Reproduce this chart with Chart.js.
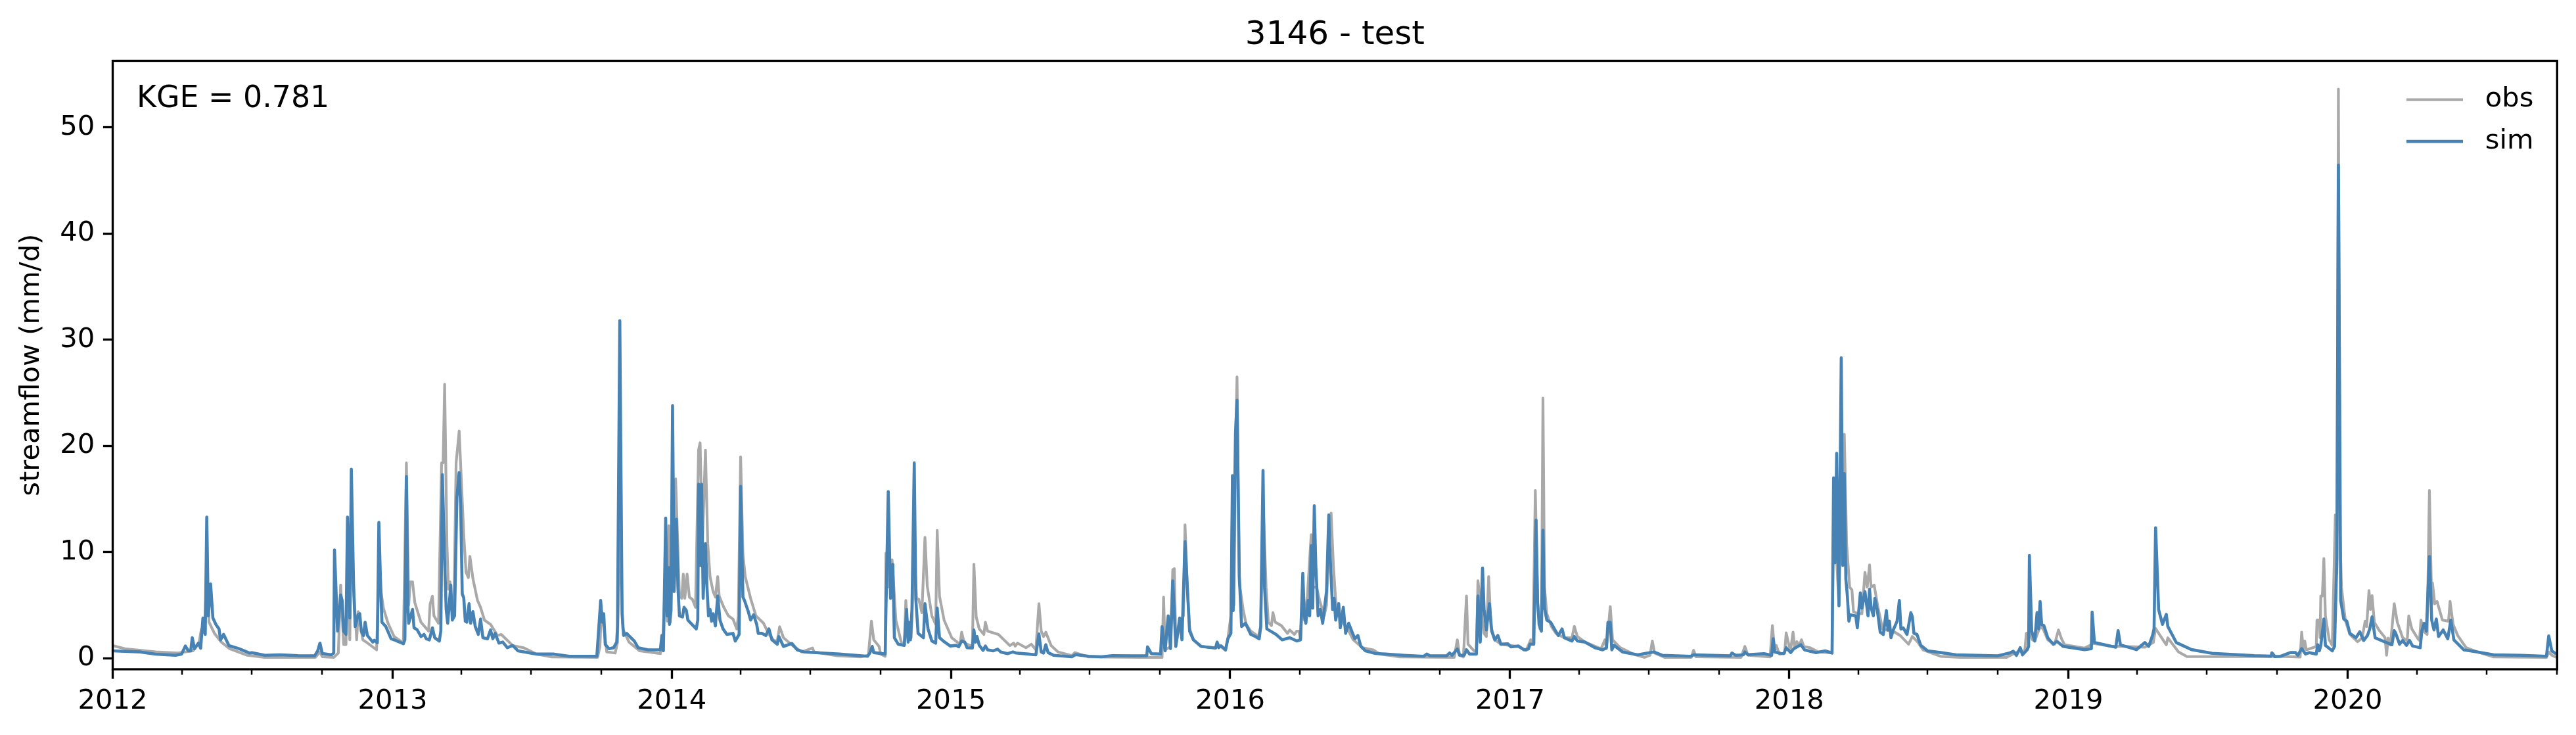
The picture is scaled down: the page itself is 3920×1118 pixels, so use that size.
<!DOCTYPE html>
<html>
<head>
<meta charset="utf-8">
<title>3146 - test</title>
<script src="https://cdn.jsdelivr.net/npm/chart.js@4/dist/chart.umd.min.js"></script>
<style>
  html, body { margin: 0; padding: 0; background: #fff; }
  canvas { display: block; }
</style>
</head>
<body>
<canvas id="flow-chart" width="3920" height="1118"></canvas>
<script>
// x values are days since 2012-01-01, y values are streamflow in mm/d
const startYear = 2012;
const lastDay = 3196;
const yearLabels = ['2012', '2013', '2014', '2015', '2016', '2017', '2018', '2019', '2020'];
const flowTicks = [0, 10, 20, 30, 40, 50];
const quarterMonths = [3, 6, 9];

const simFlow = [
  [0,.7],[36,.6],[56,.39],[82,.29],[90,.39],[95,1.16],[99,.7],[102,.7],[104,1.94],[107,.91],[112,1.43],[115,.95],
  [118,3.8],[121,2.25],[123,13.3],[125,4],[128,7],[131,3.8],[135,3.18],[139,2.77],[141,1.74],[145,2.25],[152,1.2],
  [165,.91],[179,.5],[182,.54],[199,.29],[219,.33],[242,.25],[264,.23],[268,.7],[271,1.43],[274,.46],[286,.33],
  [289,.5],[290,10.2],[294,2.56],[298,5.97],[300,5.45],[302,2.56],[305,2.25],[307,13.3],[310,3.8],[312,17.8],
  [315,6.7],[317,3],[321,4.1],[323,4.2],[325,2.56],[328,2.15],[330,3.4],[333,2.15],[340,1.53],[342,1.7],[346,1.47],
  [348,12.8],[350,7.6],[352,3.4],[357,3],[364,1.84],[368,1.74],[380,1.37],[382,1.74],[384,17.1],[386,4.8],[387,3.3],
  [392,4.6],[394,2.87],[398,2.7],[403,2.05],[407,2.25],[410,1.84],[414,1.74],[418,2.87],[421,1.94],[427,1.63],
  [429,2.56],[431,17.3],[434,9.2],[436,4.6],[438,3.3],[442,6.9],[444,3.6],[447,4],[450,15.15],[453,17.5],[455,14.3],
  [457,6.07],[459,5.7],[461,3.5],[463,3.4],[466,5.14],[468,3.3],[471,4.4],[474,3],[478,2.25],[481,3.7],[484,1.94],
  [490,1.84],[494,2.67],[497,1.84],[500,2.35],[505,1.43],[510,1.53],[516,1],[523,1.2],[530,.7],[554,.4],[577,.4],
  [597,.19],[633,.19],[638,5.45],[640,3.4],[642,4.2],[644,1.3],[649,.9],[655,1],[659,1.53],[660,3],[663,31.8],
  [666,4.2],[668,2.15],[672,2.35],[676,2.05],[682,1.63],[687,1],[700,.8],[716,.8],[718,2.15],[720,.7],[723,13.2],
  [725,4],[727,8.55],[728,3.2],[730,4.5],[732,23.8],[734,6.3],[737,13.1],[739,6.7],[741,4],[745,3.9],[747,4.8],
  [750,4.5],[752,3.6],[756,3.3],[763,2.77],[765,3.6],[766,16.4],[768,8.75],[770,16.4],[772,5.65],[775,10.8],[777,6.7],
  [779,4],[781,4.6],[783,3.5],[785,4.2],[788,3.05],[791,5.87],[794,3.6],[798,2.77],[803,2.25],[811,2.35],[814,1.63],
  [819,2.25],[821,16.2],[824,5.76],[826,5.45],[831,4.4],[834,3.6],[838,4.1],[842,3.2],[844,2.35],[849,2.35],[854,2.15],
  [858,2.77],[862,1.74],[869,1.33],[871,2.05],[877,1.12],[888,1.4],[895,.8],[904,.6],[927,.5],[950,.4],[987,.19],
  [990,.5],[993,1.12],[995,.54],[1010,.4],[1011,4.6],[1014,15.7],[1017,5.65],[1020,8.85],[1022,1.94],[1027,1.33],
  [1035,1.22],[1038,4.6],[1040,1.53],[1041,3.4],[1043,1.74],[1045,4.6],[1048,18.4],[1050,5.65],[1053,2.35],[1060,1.94],
  [1062,5.14],[1066,2.77],[1071,1.63],[1076,1.43],[1078,4.74],[1081,1.94],[1086,1.63],[1095,1.16],[1103,1.22],
  [1106,1.08],[1110,1.63],[1114,1.53],[1117,1],[1124,.97],[1126,2.67],[1128,1.53],[1130,2.05],[1133,1.22],[1138,.75],
  [1141,1.16],[1144,.8],[1151,.7],[1157,.87],[1161,.6],[1170,.44],[1177,.6],[1181,.5],[1197,.4],[1207,.33],[1211,2.3],
  [1214,.6],[1217,.5],[1220,1.28],[1223,.54],[1230,.29],[1254,.15],[1259,.35],[1276,.19],[1293,.15],[1307,.25],
  [1333,.23],[1352,.25],[1353,1.08],[1358,.44],[1370,.4],[1372,2.97],[1376,.7],[1380,4],[1383,.91],[1386,7.3],
  [1390,1.12],[1395,3.8],[1398,1.74],[1402,11],[1405,6.7],[1408,2.56],[1413,1.74],[1423,1.12],[1442,.97],[1444,1.53],
  [1446,1],[1449,1.18],[1455,.8],[1458,1.84],[1462,2.35],[1464,17.2],[1465,4.5],[1468,21.2],[1470,24.3],[1473,7.7],
  [1476,3],[1481,3.3],[1488,2.25],[1494,2.05],[1499,1.84],[1501,3],[1504,17.7],[1506,6.7],[1509,2.77],[1521,2.25],
  [1529,1.74],[1539,1.94],[1548,1.63],[1553,1.74],[1556,8],[1558,4],[1560,3.3],[1563,5.45],[1565,4],[1567,10.6],
  [1569,4.73],[1571,14.37],[1573,8.75],[1576,4],[1579,4.6],[1582,3.3],[1587,6.3],[1590,13.5],[1591,10.8],[1595,4.6],
  [1597,5.65],[1599,3.6],[1603,5.14],[1605,2.87],[1609,4.8],[1612,2.35],[1616,3.3],[1620,2.56],[1624,1.84],[1628,2.15],
  [1632,1.12],[1638,.7],[1651,.46],[1664,.4],[1688,.29],[1714,.19],[1718,.4],[1722,.25],[1744,.23],[1748,.5],[1751,.29],
  [1758,.87],[1761,.29],[1767,.29],[1770,.8],[1774,.4],[1783,.4],[1785,5.87],[1788,1.53],[1791,8.5],[1793,4.6],
  [1796,2.67],[1800,5.14],[1803,2.56],[1807,1.74],[1811,2.15],[1815,1.33],[1824,1.37],[1828,1.08],[1838,1.16],
  [1845,.8],[1851,.87],[1853,1.33],[1858,1.33],[1861,13],[1863,5.25],[1865,3.18],[1868,2.56],[1870,12.06],[1872,4.8],
  [1875,3.6],[1880,3.4],[1885,2.77],[1890,2.15],[1895,2.77],[1898,1.94],[1908,1.63],[1911,2.05],[1915,1.63],[1925,1.53],
  [1938,1],[1948,.8],[1953,1],[1955,3.4],[1958,3.4],[1960,.8],[1963,1.22],[1974,.6],[1994,.33],[2007,.5],[2015,.6],
  [2026,.29],[2063,.19],[2067,.33],[2115,.23],[2117,.5],[2122,.29],[2132,.33],[2134,.6],[2138,.35],[2159,.44],
  [2169,.29],[2171,1.84],[2173,.6],[2181,.46],[2185,.44],[2188,1],[2194,.54],[2198,.91],[2207,1.28],[2212,.8],
  [2227,.54],[2239,.7],[2248,.5],[2250,17],[2252,9],[2254,19.3],[2257,4.94],[2260,28.3],[2262,8.75],[2264,17.4],
  [2266,7.5],[2268,5.87],[2270,3.5],[2272,4.1],[2279,4],[2281,2.87],[2285,6.17],[2287,4.73],[2291,6.27],[2295,4],
  [2297,6.5],[2299,4.8],[2302,4],[2304,5.65],[2307,4.6],[2311,2.46],[2315,2.25],[2319,4.5],[2321,2.67],[2323,3.5],
  [2325,1.94],[2328,2.67],[2333,3.5],[2336,5.45],[2338,2.77],[2341,2.87],[2346,2.25],[2351,4.3],[2353,3.9],[2355,2.35],
  [2359,2.25],[2364,1.22],[2373,.7],[2390,.54],[2410,.33],[2464,.23],[2480,.5],[2485,.66],[2489,.27],[2494,1],[2497,.33],
  [2503,.8],[2505,1.12],[2506,9.68],[2509,2.56],[2513,1.63],[2516,4.3],[2518,2.77],[2520,5.35],[2522,3.18],[2525,3.08],
  [2530,1.94],[2537,1.33],[2542,1.6],[2550,1.13],[2578,.82],[2587,.9],[2588,4.36],[2591,1.49],[2613,1.13],[2619,1.05],
  [2622,2.6],[2625,1.27],[2646,.82],[2657,1.49],[2662,1.13],[2667,2.15],[2669,2.8],[2671,12.3],[2675,4.58],[2680,3.2],
  [2685,4.14],[2687,3],[2698,1.49],[2718,.82],[2745,.47],[2800,.25],[2822,.2],[2823,.52],[2827,.16],[2834,.19],
  [2847,.54],[2854,.54],[2857,.29],[2862,.91],[2867,.4],[2872,.54],[2881,.4],[2883,1.28],[2885,.7],[2887,1.2],
  [2891,3.7],[2893,1.22],[2902,.7],[2905,1.12],[2908,9.37],[2910,46.45],[2913,5.45],[2917,3.7],[2921,3.5],[2925,2.35],
  [2933,1.94],[2938,2.5],[2943,1.68],[2948,2.15],[2951,2.77],[2954,3.9],[2958,1.94],[2968,1.63],[2980,1.28],[2983,2.6],
  [2985,2.35],[2990,1.33],[2994,1.68],[2999,1.22],[3003,1.68],[3007,1.16],[3017,1],[3019,2.56],[3022,3.29],[3025,2.56],
  [3029,9.58],[3032,3.6],[3035,2.67],[3038,3.7],[3041,2.05],[3047,2.67],[3053,1.84],[3057,3.6],[3061,1.74],[3074,.8],
  [3092,.6],[3113,.33],[3149,.29],[3182,.19],[3185,2.11],[3189,.7],[3195,.4]
];

const obsFlow = [
  [0,1.2],[16,.9],[56,.6],[85,.5],[105,.7],[113,1.5],[116,2.75],[120,2.35],[123,8],[126,3.4],[133,2.35],[142,1.53],
  [153,.9],[176,.29],[199,.09],[265,.09],[271,.6],[274,.15],[289,.09],[295,.5],[298,6.9],[302,1.3],[305,1.3],[307,9],
  [310,1.74],[312,12],[315,6.7],[319,1.74],[321,4.4],[327,1.74],[332,1.5],[345,.8],[348,7.7],[354,4.7],[360,3.3],
  [368,2.05],[380,1.43],[384,18.4],[387,5],[389,7.2],[392,7.2],[395,5.25],[403,3.4],[413,2.56],[415,5.1],[418,5.85],
  [420,4],[426,3.3],[430,18.4],[432,18.4],[434,25.8],[437,10.8],[439,6.5],[441,7.2],[443,4.6],[446,4],[449,18.4],
  [453,21.4],[455,18.1],[459,11.6],[462,8.1],[465,7.6],[467,9.6],[471,7.5],[477,5.45],[481,4.8],[486,3.6],[494,3.2],
  [503,2.15],[508,2.25],[523,1.2],[537,1],[554,.4],[574,.13],[634,.09],[637,1.1],[639,4.5],[642,3],[646,.6],[657,.5],
  [660,1.5],[663,12],[667,2.77],[675,1.53],[689,.7],[716,.44],[719,1.5],[723,8],[725,3.5],[727,12.5],[729,3.4],[732,9],
  [736,16.9],[741,5.85],[744,5.65],[746,7.93],[748,5.65],[751,7.93],[754,5.76],[758,5.55],[762,4.8],[766,19.6],
  [768,20.3],[771,10.8],[775,19.6],[778,10.8],[781,7.7],[785,6.3],[788,5.76],[791,7.7],[793,5.85],[799,4.8],[805,4],
  [811,3.7],[816,2.77],[818,4],[821,18.97],[824,9.8],[827,7.7],[834,5.65],[841,4],[851,3.3],[858,2.25],[865,1.63],
  [869,1.7],[872,2.97],[877,1.94],[889,1.2],[901,.6],[915,.97],[917,.6],[947,.25],[978,.13],[988,.29],[992,3.5],
  [995,1.74],[1002,1.12],[1004,.4],[1010,.19],[1011,9.9],[1015,6.7],[1019,9.27],[1024,3.6],[1031,1.53],[1035,1.3],
  [1037,5.45],[1040,1.74],[1042,3.4],[1044,1.94],[1048,10],[1051,5.65],[1054,5.55],[1058,4.3],[1062,11.4],[1065,6.8],
  [1071,4],[1076,3.2],[1078,12.05],[1081,5.85],[1087,3.6],[1097,1.94],[1106,1.43],[1108,1.43],[1110,2.46],[1113,1.53],
  [1117,1.33],[1124,1.12],[1126,8.86],[1129,3.9],[1133,2.77],[1139,2.25],[1141,3.4],[1144,2.56],[1158,2.25],[1173,1.2],
  [1178,1.43],[1180,1.15],[1183,1.43],[1194,1],[1201,1.33],[1207,.8],[1211,5.14],[1214,2.56],[1217,2.05],[1220,2.46],
  [1227,1.2],[1236,.6],[1254,.25],[1258,.54],[1276,.13],[1347,.09],[1372,.09],[1374,5.76],[1376,.8],[1383,1.1],
  [1386,8.34],[1388,8.44],[1390,1.2],[1396,3.6],[1400,4],[1402,12.57],[1405,6.7],[1408,2.8],[1413,1.74],[1423,1.12],
  [1442,.97],[1444,1.4],[1449,1.1],[1455,.75],[1458,1.84],[1462,4],[1464,15],[1466,5],[1468,20],[1470,26.5],[1473,7.1],
  [1478,4.6],[1482,3.2],[1488,2.56],[1498,2.05],[1501,3],[1504,15],[1508,6.7],[1511,3.4],[1515,3.08],[1517,4.3],
  [1520,3.4],[1528,3.08],[1536,2.35],[1539,2.67],[1545,2.25],[1548,2.56],[1551,2.56],[1553,1.74],[1556,6],[1558,3.6],
  [1562,5.87],[1567,11.64],[1569,6.7],[1574,6.7],[1578,5.45],[1584,4],[1587,5],[1590,11],[1593,13.67],[1596,8.75],
  [1599,5.45],[1605,3.6],[1614,2.87],[1622,1.74],[1634,1],[1648,.8],[1657,.4],[1683,.13],[1754,.09],[1758,1.74],
  [1761,.29],[1766,.13],[1770,5.87],[1772,1.33],[1780,.7],[1783,.7],[1785,7.3],[1789,4.6],[1793,2.36],[1796,2.05],
  [1799,7.7],[1802,3],[1807,1.74],[1815,1.33],[1838,1.1],[1848,.75],[1854,1.74],[1857,1.33],[1860,15.8],[1863,5.25],
  [1866,2.77],[1868,3],[1870,24.5],[1872,6.7],[1875,4.2],[1881,3],[1887,2.35],[1898,1.94],[1908,1.94],[1911,3],
  [1915,2.05],[1925,1.53],[1946,.9],[1951,1.74],[1953,.9],[1958,4.87],[1961,1.74],[1971,1],[1988,.4],[2003,.09],
  [2010,.29],[2013,1.63],[2016,.5],[2029,.09],[2064,.09],[2067,.75],[2070,.15],[2129,.09],[2134,1.12],[2138,.29],
  [2167,.13],[2170,3.08],[2173,.7],[2175,1.22],[2179,.4],[2186,.5],[2188,2.4],[2192,1.12],[2194,.91],[2197,2.46],
  [2199,1.12],[2202,1.57],[2205,1.2],[2208,1.74],[2211,1.12],[2219,1],[2230,.6],[2248,.5],[2250,12.9],[2253,10.8],
  [2257,5],[2260,16],[2264,21.1],[2267,10.8],[2271,6.7],[2274,6.44],[2276,4.4],[2282,4.2],[2287,4.2],[2291,8.1],
  [2294,6.7],[2297,8.8],[2299,6.7],[2303,6.9],[2308,4.8],[2314,2.77],[2330,2.46],[2337,2.15],[2348,1.33],[2353,2.05],
  [2360,1.53],[2367,.8],[2390,.19],[2416,.09],[2476,.09],[2487,.5],[2494,.7],[2500,.7],[2502,2.36],[2506,2.4],
  [2510,1.74],[2513,1.63],[2520,3],[2524,2.77],[2530,1.74],[2539,1.33],[2544,2.67],[2548,1.84],[2552,1.27],[2578,.96],
  [2590,1.4],[2613,1.13],[2624,1.13],[2657,1.05],[2668,1.49],[2671,2.8],[2685,1.27],[2687,1.93],[2701,.6],[2712,.16],
  [2843,.16],[2860,.12],[2862,2.46],[2864,.9],[2866,1.63],[2868,.8],[2881,1.1],[2882,3.6],[2885,3.6],[2886,1.94],
  [2887,5.87],[2889,5.87],[2891,9.4],[2893,4],[2898,1.74],[2902,1.22],[2906,13.5],[2908,8],[2910,53.6],[2912,12],
  [2914,6.7],[2919,3.6],[2925,2.25],[2935,1.57],[2941,1.9],[2945,3.5],[2947,3],[2950,6.38],[2952,4.6],[2954,5.9],
  [2957,3.4],[2963,2.67],[2971,1.94],[2973,.29],[2975,1.9],[2978,1.25],[2983,5.14],[2987,3.4],[2994,1.94],[3000,1.65],
  [3002,4],[3006,2.77],[3014,1.84],[3016,1.7],[3018,3.6],[3021,2.56],[3026,2.25],[3029,15.8],[3032,5],[3033,7.1],
  [3036,5.14],[3039,5.35],[3046,3.6],[3054,3.5],[3056,5.35],[3060,3.2],[3066,2.15],[3077,1],[3092,.6],[3113,.13],
  [3182,.09],[3185,.6],[3189,.29],[3195,.09]
];

function dayOf(year, month) {
  return (Date.UTC(year, month, 1) - Date.UTC(startYear, 0, 1)) / 86400000;
}

function toPoints(pairs) {
  return pairs.map(p => ({ x: p[0], y: p[1] }));
}

const font = 'DejaVu Sans';
const tickFont = { family: font, size: 41.67 };

// quarter ticks between the years, the axis only draws the year ones itself
const minorTicks = {
  id: 'minorTicks',
  afterDraw(chart) {
    const ctx = chart.ctx;
    const x = chart.scales.x;
    const bottom = chart.chartArea.bottom;
    ctx.save();
    ctx.strokeStyle = '#000';
    ctx.lineWidth = 2.5;
    yearLabels.forEach(y => {
      quarterMonths.forEach(m => {
        const day = dayOf(Number(y), m);
        if (day > lastDay) return;
        const px = Math.round(x.getPixelForValue(day));
        ctx.beginPath();
        ctx.moveTo(px, bottom);
        ctx.lineTo(px, bottom + 8.33);
        ctx.stroke();
      });
    });
    ctx.restore();
  }
};

const frameAndNote = {
  id: 'frameAndNote',
  afterLayout(chart) {
    // title sits over the plot, legend in the top right of the plot
    chart.titleBlock.left = chart.chartArea.left;
    chart.titleBlock.right = chart.chartArea.right;
    chart.legend.left = 3640.2;
    chart.legend.right = 3640.2 + chart.legend.width;
    chart.legend.top = 109;
  },
  afterDraw(chart) {
    const ctx = chart.ctx;
    const a = chart.chartArea;
    ctx.save();
    ctx.strokeStyle = '#000';
    ctx.lineWidth = 3.33;
    ctx.strokeRect(a.left, a.top, a.right - a.left, a.bottom - a.top);
    ctx.fillStyle = '#000';
    ctx.font = '45.83px "' + font + '"';
    ctx.textBaseline = 'alphabetic';
    ctx.fillText('KGE = 0.781', 208, 162.6);
    ctx.restore();
  }
};

new Chart(document.getElementById('flow-chart'), {
  type: 'line',
  data: {
    datasets: [
      { label: 'obs', data: toPoints(obsFlow), borderColor: '#a9a9a9', backgroundColor: '#a9a9a9', borderWidth: 4.17, order: 1 },
      { label: 'sim', data: toPoints(simFlow), borderColor: '#4682b4', backgroundColor: '#4682b4', borderWidth: 4.6, order: 0 }
    ]
  },
  options: {
    responsive: false,
    devicePixelRatio: 1,
    animation: false,
    parsing: false,
    normalized: true,
    layout: { padding: { right: 28.7, top: 0, bottom: 0, left: 0 } },
    elements: {
      point: { radius: 0 },
      line: { tension: 0, borderJoinStyle: 'round', borderCapStyle: 'butt' }
    },
    plugins: {
      title: {
        display: true,
        text: '3146 - test',
        color: '#000',
        font: { family: font, size: 50, weight: 'normal' },
        padding: { top: 24.5, bottom: 8 }
      },
      legend: {
        position: 'chartArea',
        align: 'start',
        labels: {
          color: '#000',
          font: tickFont,
          boxWidth: 99,
          boxHeight: 0,
          padding: 21.8,
          sort: (a, b) => a.datasetIndex - b.datasetIndex,
          generateLabels(chart) {
            return Chart.defaults.plugins.legend.labels.generateLabels(chart).map(item => {
              item.fillStyle = 'transparent';
              item.lineDash = [86, 2000];
              return item;
            });
          }
        }
      },
      tooltip: { enabled: false }
    },
    scales: {
      x: {
        type: 'linear',
        min: 0,
        max: lastDay,
        afterFit(scale) { scale.height = 100; },
        afterBuildTicks(scale) {
          scale.ticks = yearLabels.map(y => ({ value: dayOf(Number(y), 0) }));
        },
        grid: { drawOnChartArea: false, drawTicks: true, tickLength: 14.58, tickWidth: 3.33, tickColor: '#000' },
        border: { display: false },
        ticks: {
          color: '#000',
          font: tickFont,
          padding: 9.6,
          autoSkip: false,
          maxRotation: 0,
          callback(value) { return String(startYear + Math.round(value / 365.25)); }
        }
      },
      y: {
        min: -1.03,
        max: 56.27,
        afterFit(scale) { scale.width = 171.5; },
        afterBuildTicks(scale) {
          scale.ticks = flowTicks.map(v => ({ value: v }));
        },
        grid: { drawOnChartArea: false, drawTicks: true, tickLength: 14.58, tickWidth: 3.33, tickColor: '#000' },
        border: { display: false },
        ticks: { color: '#000', font: tickFont, padding: 12.6, callback(value) { return String(value); } },
        title: {
          display: true,
          text: 'streamflow (mm/d)',
          color: '#000',
          font: tickFont,
          padding: { top: 23, bottom: 0 }
        }
      }
    }
  },
  plugins: [minorTicks, frameAndNote]
});
</script>
</body>
</html>
